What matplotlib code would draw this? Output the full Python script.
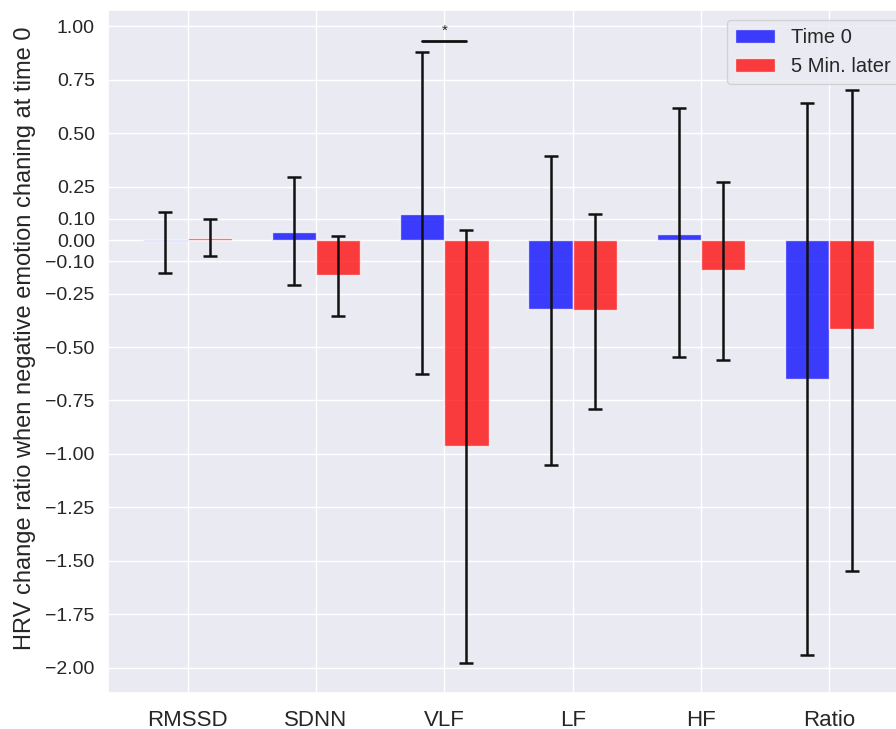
import numpy as np
import matplotlib
matplotlib.use("Agg")
import matplotlib.pyplot as plt
import seaborn as sns

# data
categories = ["RMSSD", "SDNN", "VLF", "LF", "HF", "Ratio"]
time0_mean = [-0.006, 0.039, 0.123, -0.322, 0.028, -0.65]
time0_err_lo = [-0.153, -0.212, -0.626, -1.051, -0.547, -1.941]
time0_err_hi = [0.132, 0.296, 0.88, 0.393, 0.617, 0.64]
later_mean = [0.01, -0.165, -0.963, -0.327, -0.14, -0.416]
later_err_lo = [-0.073, -0.355, -1.975, -0.79, -0.561, -1.547]
later_err_hi = [0.098, 0.019, 0.048, 0.121, 0.271, 0.70]
yticks = [1.0, 0.75, 0.5, 0.25, 0.1, 0.0, -0.1, -0.25, -0.5, -0.75,
          -1.0, -1.25, -1.5, -1.75, -2.0]

sns.set_theme(style="darkgrid")
plt.rcParams['font.family'] = ['Liberation Sans', 'DejaVu Sans']

fig = plt.figure(figsize=(8.96, 7.29), dpi=100)
ax = fig.add_axes([108 / 896, 1 - 693 / 729, 801 / 896, 683 / 729])

x = np.arange(len(categories))
w = 0.345

def err_from(lo, hi):
    lo = np.array(lo)
    hi = np.array(hi)
    mid = (lo + hi) / 2
    return mid, (hi - lo) / 2

mid0, e0 = err_from(time0_err_lo, time0_err_hi)
mid1, e1 = err_from(later_err_lo, later_err_hi)

ax.bar(x - w / 2, time0_mean, width=w, color="blue", alpha=0.75, label="Time 0")
ax.bar(x + w / 2, later_mean, width=w, color="red", alpha=0.75, label="5 Min. later")
ax.errorbar(x - w / 2, mid0, yerr=e0, fmt="none", ecolor="#111111",
            elinewidth=1.8, capsize=5, capthick=1.8)
ax.errorbar(x + w / 2, mid1, yerr=e1, fmt="none", ecolor="#111111",
            elinewidth=1.8, capsize=5, capthick=1.8)

# significance marker on VLF
i = categories.index("VLF")
ax.plot([i - w / 2, i + w / 2], [0.93, 0.93], color="#111111", lw=2)
ax.text(i, 0.945, "*", ha="center", va="bottom", fontsize=11, color="#222222")

ax.set_xticks(x)
ax.set_xticklabels(categories, fontsize=16)
ax.set_yticks(yticks)
ax.set_yticklabels([("%.2f" % t).replace("-", "\u2212") for t in yticks], fontsize=14)
ax.set_xlim(-0.62, 5.62)
ax.set_ylim(-2.117, 1.075)
ax.set_ylabel("HRV change ratio when negative emotion chaning at time 0",
              fontsize=17)
ax.yaxis.set_label_coords(-0.09, 0.52)
ax.tick_params(axis="x", pad=6)
ax.legend(loc="upper right", fontsize=14.5)

fig.savefig("out.png", dpi=100)
